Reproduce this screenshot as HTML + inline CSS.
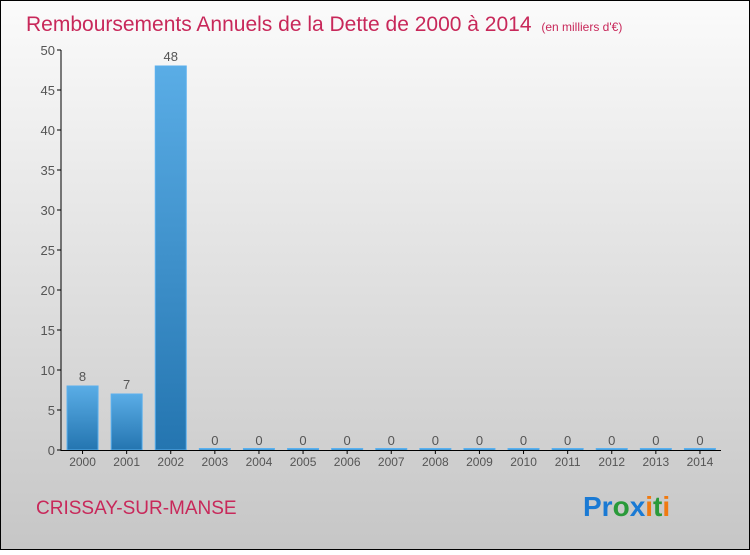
<!DOCTYPE html>
<html><head><meta charset="utf-8"><style>
html,body{margin:0;padding:0;}
body{width:750px;height:550px;overflow:hidden;font-family:"Liberation Sans",sans-serif;}
</style></head><body>
<svg width="750" height="550" xmlns="http://www.w3.org/2000/svg">
<defs>
<linearGradient id="bg" x1="0" y1="0" x2="0" y2="1"><stop offset="0" stop-color="#fbfbfb"/><stop offset="1" stop-color="#c6c6c6"/></linearGradient>
<linearGradient id="bar" x1="0" y1="0" x2="0" y2="1"><stop offset="0" stop-color="#5aade6"/><stop offset="1" stop-color="#2475b0"/></linearGradient>
</defs>
<rect x="0.5" y="0.5" width="749" height="549" fill="url(#bg)" stroke="#000"/>
<text x="26" y="31" font-size="21" fill="#c8285a">Remboursements Annuels de la Dette de 2000 à 2014 <tspan font-size="12" dx="4">(en milliers d'€)</tspan></text>
<g id="yaxis"></g><g id="bars"></g><g id="xaxis"></g>
<line x1="61" y1="50" x2="61" y2="451" stroke="#000"/>
<line x1="61" y1="450.5" x2="721" y2="450.5" stroke="#000"/>
<text x="36" y="514" font-size="19" fill="#c8285a">CRISSAY-SUR-MANSE</text>
<g font-size="28" font-weight="bold">
<text x="583" y="516"><tspan fill="#1a7ad4">Pr</tspan><tspan fill="#2a9a3a">o</tspan><tspan fill="#1a7ad4">x</tspan><tspan fill="#f07a10">i</tspan><tspan fill="#2a9a3a">t</tspan><tspan fill="#f07a10">i</tspan></text>
</g>
</svg>
<script>
const categories=["2000","2001","2002","2003","2004","2005","2006","2007","2008","2009","2010","2011","2012","2013","2014"];
const values=[8,7,48,0,0,0,0,0,0,0,0,0,0,0,0];
const yTicks=[0,5,10,15,20,25,30,35,40,45,50];
const NS="http://www.w3.org/2000/svg";
const x0=60.5,step=44.1,bw=31,yBase=450,yScale=8;
const xC=i=>x0+step*(i+0.5);
const yV=v=>yBase-v*yScale;
function mk(t,a,p){const e=document.createElementNS(NS,t);for(const k in a)e.setAttribute(k,a[k]);p.appendChild(e);return e;}
const ya=document.getElementById('yaxis'),bg=document.getElementById('bars'),xa=document.getElementById('xaxis');
yTicks.forEach(v=>{
 const l=mk('line',{x1:57,x2:61,y1:yV(v),y2:yV(v),stroke:'#000'},ya);
 
 
 const t=mk('text',{x:55,y:yV(v)+5,'font-size':13,fill:'#555','text-anchor':'end'},ya);
 t.textContent=v;
 
 
});
categories.forEach((c,i)=>{
 const v=values[i];const h=Math.max(v*yScale,1.5);
 const r=mk('rect',{x:xC(i)-bw/2,y:yBase-h,width:bw,height:h,fill:'url(#bar)',stroke:'#5ab0ee','stroke-width':1},bg);
 
 
 const t=mk('text',{x:xC(i),y:yV(v)-5,'font-size':13,fill:'#555','text-anchor':'middle'},bg);
 t.textContent=v;
 
 
 const k=mk('line',{x1:xC(i),x2:xC(i),y1:450,y2:454,stroke:'#000'},xa);
 
 
 const xl=mk('text',{x:xC(i),y:466,'font-size':12,fill:'#555','text-anchor':'middle'},xa);
 xl.textContent=c;
 
 
});
</script>
</body></html>
